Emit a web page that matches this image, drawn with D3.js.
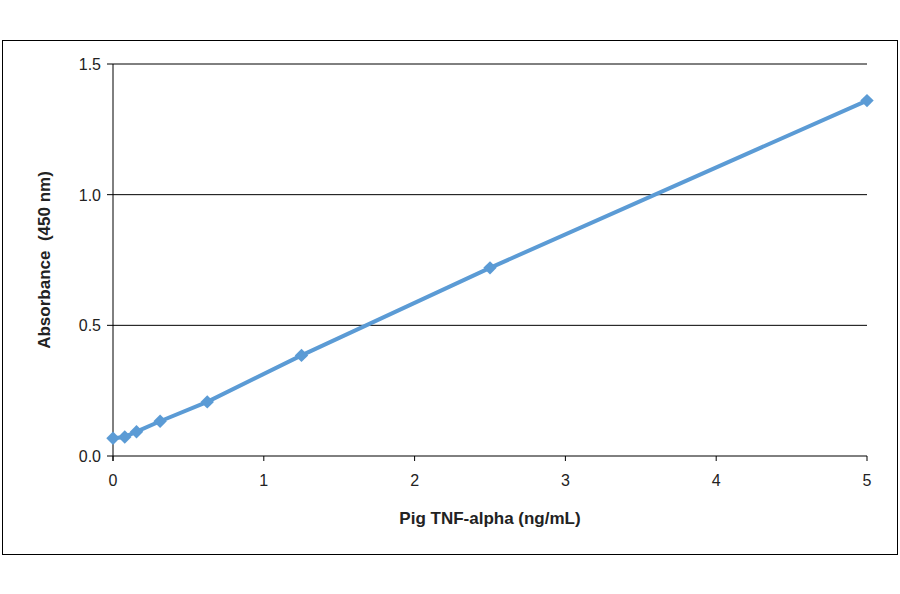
<!DOCTYPE html><html><head><script src="https://cdn.jsdelivr.net/npm/d3@7"></script>
<style>body{margin:0;background:#fff}</style></head><body><svg id="c" width="900" height="594"></svg>
<script>
const xValues=[0,0.078,0.156,0.3125,0.625,1.25,2.5,5];
const yValues=[0.068,0.073,0.093,0.133,0.207,0.385,0.72,1.36];
const xTicks=[0,1,2,3,4,5];
const yTicks=[0,0.5,1.0,1.5];
const svg=d3.select("#c");
svg.append("rect").attr("x",2.5).attr("y",40.5).attr("width",895).attr("height",514).attr("fill","none").attr("stroke","#000");
const x=d3.scaleLinear().domain([0,5]).range([113,867]);
const y=d3.scaleLinear().domain([0,1.5]).range([456,64]);
const f="Liberation Sans, Arial, sans-serif";
yTicks.forEach(t=>{svg.append("line").attr("x1",107).attr("x2",867).attr("y1",y(t)).attr("y2",y(t)).attr("stroke","#000");
svg.append("text").attr("x",101).attr("y",y(t)+6).attr("text-anchor","end").attr("font-family",f).attr("font-size",16).attr("fill","#222").text(t.toFixed(1));});
svg.append("line").attr("x1",113).attr("x2",113).attr("y1",64).attr("y2",461).attr("stroke","#000");
xTicks.forEach(t=>{svg.append("line").attr("x1",x(t)).attr("x2",x(t)).attr("y1",456).attr("y2",461).attr("stroke","#000");
svg.append("text").attr("x",x(t)).attr("y",486).attr("text-anchor","middle").attr("font-family",f).attr("font-size",16).attr("fill","#222").text(t);});
const pts=xValues.map((v,i)=>[v,yValues[i]]);
svg.append("path").attr("d",d3.line().x(d=>x(d[0])).y(d=>y(d[1]))(pts)).attr("fill","none").attr("stroke","#5b9bd5").attr("stroke-width",4);
svg.selectAll(".m").data(pts).join("path").attr("transform",d=>`translate(${x(d[0])},${y(d[1])}) rotate(45)`)
 .attr("d",d3.symbol(d3.symbolSquare,90)).attr("fill","#5b9bd5");
svg.append("text").attr("x",490).attr("y",524).attr("text-anchor","middle").attr("font-family",f).attr("font-size",17).attr("font-weight","bold").attr("fill","#222").text("Pig TNF-alpha (ng/mL)");
svg.append("text").attr("transform","translate(50,260) rotate(-90)").attr("text-anchor","middle").attr("font-family",f).attr("font-size",17).attr("font-weight","bold").attr("fill","#222").attr("xml:space","preserve").text("Absorbance  (450 nm)");
</script></body></html>
